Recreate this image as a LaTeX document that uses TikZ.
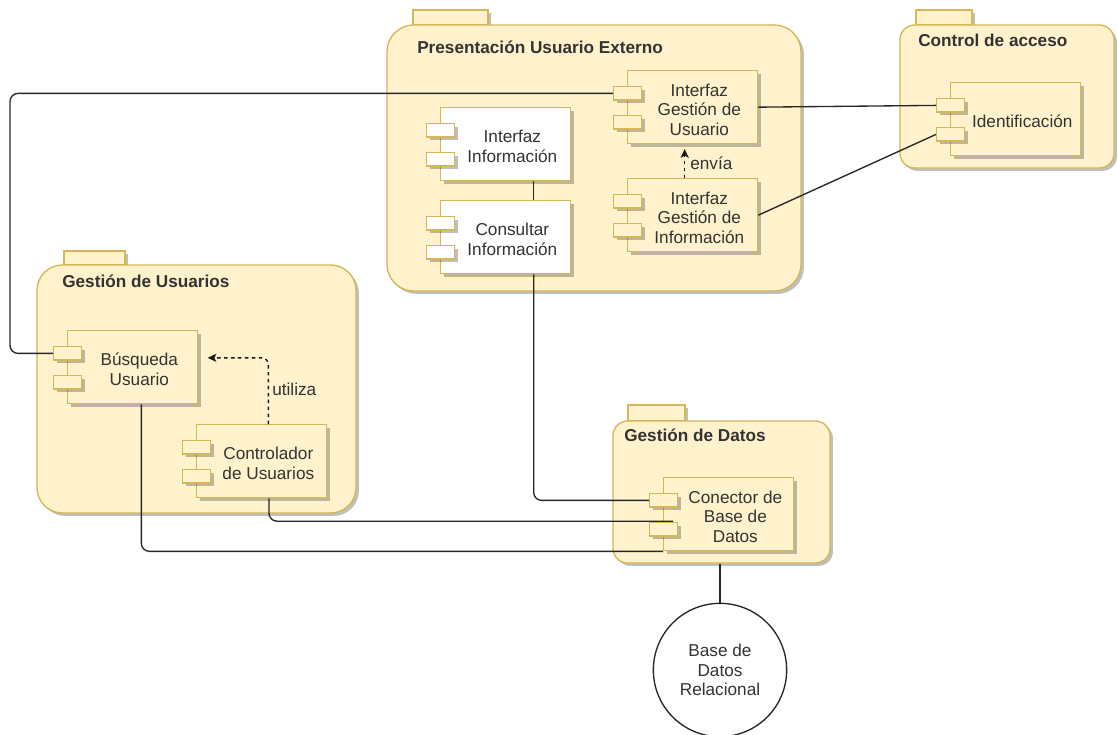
\documentclass[tikz,border=0pt]{standalone}
\usepackage{fontspec}
\setmainfont{Liberation Sans}
\usetikzlibrary{shadows,fit,arrows.meta}

\definecolor{pkgfill}{HTML}{FFF2CC}
\definecolor{pkgline}{HTML}{D6B656}
\definecolor{txt}{HTML}{333333}

\tikzset{
  softshadow/.style={drop shadow={shadow xshift=2.2pt, shadow yshift=-2.2pt, fill=black, opacity=0.25}},
  pkgbody/.style={draw=pkgline, fill=pkgfill, line width=1pt, inner sep=0pt, softshadow},
  pkgtitle/.style={anchor=west, inner sep=0pt, text=txt, font=\fontsize{12.9}{15}\selectfont\bfseries},
  comp/.style={draw=pkgline, line width=1pt, minimum width=97.5pt, minimum height=54.75pt,
    inner sep=0pt, align=center, text=txt, font=\fontsize{12.9}{14.6}\selectfont, softshadow},
  port/.style={draw=pkgline, line width=1pt, minimum width=21pt, minimum height=10.1pt,
    inner sep=0pt, softshadow},
  conn/.style={draw=black!85, line width=1pt, rounded corners=6pt},
  dep/.style={draw=black!90, line width=1pt, dash pattern=on 2.6pt off 2.6pt,
    -{Stealth[length=6.5pt,width=6pt,inset=1.5pt]}, rounded corners=5pt},
  lbl/.style={anchor=west, inner sep=0pt, text=txt, font=\fontsize{12.9}{15}\selectfont},
}

% component: name, left, top (px), fill, text (text sits a little right of centre, clear of the ports)
\newcommand\umlcomp[5]{%
  \node[comp, fill=#4, anchor=north west] (#1) at (#2,#3)
    {\hspace*{10pt}\raisebox{-3.5pt}[\height][\depth]{\begin{tabular}{@{}c@{}}#5\end{tabular}}};
  \node[port, fill=#4, anchor=north west] (#1-p1) at ([xshift=-10.5pt,yshift=-12pt]#1.north west) {};
  \node[port, fill=#4, anchor=north west] (#1-p2) at ([xshift=-10.5pt,yshift=-33.75pt]#1.north west) {};
}

\begin{document}
\begin{tikzpicture}[x=0.75pt, y=-0.75pt]
\useasboundingbox (0,0) rectangle (1118,735);

% ---------- packages ----------
\node[pkgbody, fit={(413,10) (488,25)}] (pres-tab) {};
\node[pkgbody, rounded corners=20pt, fit={(387,25) (801,291)}] (pres) {};
\node[pkgtitle] (pres-title) at (417,47) {Presentación Usuario Externo};

\node[pkgbody, fit={(916,10) (972,25)}] (acc-tab) {};
\node[pkgbody, rounded corners=11pt, fit={(900,25) (1114,168)}] (acc) {};
\node[pkgtitle] (acc-title) at (918,40) {Control de acceso};

\node[pkgbody, fit={(64,251) (125,265)}] (usr-tab) {};
\node[pkgbody, rounded corners=19pt, fit={(37,265) (356,513)}] (usr) {};
\node[pkgtitle] (usr-title) at (62,281) {Gestión de Usuarios};

\node[pkgbody, fit={(628,405) (685,421)}] (dat-tab) {};
\node[pkgbody, rounded corners=11pt, fit={(613,421) (830,563)}] (dat) {};
\node[pkgtitle] (dat-title) at (624,435) {Gestión de Datos};

% ---------- components ----------
\umlcomp{igu}{627}{70}{pkgfill}{Interfaz\\Gestión de\\Usuario}
\umlcomp{igi}{627}{178}{pkgfill}{Interfaz\\Gestión de\\Información}
\umlcomp{ii}{440}{107}{white}{Interfaz\\Información}
\umlcomp{ci}{440}{200}{white}{Consultar\\Información}
\umlcomp{idf}{950}{82}{pkgfill}{Identificación}
\umlcomp{bu}{67}{330}{pkgfill}{Búsqueda\\Usuario}
\umlcomp{cu}{196}{424}{pkgfill}{Controlador\\de Usuarios}
\umlcomp{cbd}{663}{477}{pkgfill}{Conector de\\Base de\\Datos}

% ---------- database ----------
\node[draw=black!85, line width=1pt, fill=white, circle, minimum size=100pt, inner sep=0pt,
  align=center, text=txt, font=\fontsize{12.9}{14.6}\selectfont] (bd) at (720,670)
  {Base de\\Datos\\Relacional};

% ---------- connectors ----------
\coordinate (lft) at (10,0);
\draw[conn] (igu-p1.west) -- (lft |- igu-p1.west) -- (lft |- bu-p1.west) -- (bu-p1.west);
\draw[conn] (igu.east) -- (idf-p1.west);
\draw[conn] (igi.east) -- (idf-p2.west);
\draw[conn] ([xshift=21pt]ii.south) -- ([xshift=21pt]ci.north);
\draw[conn] ([xshift=21pt]ci.south) |- (cbd-p1.west);
\draw[conn] ([xshift=5.5pt]cu.south) |- ([xshift=-4pt,yshift=0.6pt]cbd-p2.north east);
\draw[conn] ([xshift=6.5pt]bu.south) |- (cbd.south west);
\draw[conn] (bd.north) -- (bd.north |- dat.south);

% ---------- dependencies ----------
\draw[dep] ([xshift=-6pt]igi.north) -- ([xshift=-6pt,yshift=-3.5pt]igu.south);
\node[lbl] (envia) at (690,163) {envía};
\draw[dep] ([xshift=5pt]cu.north) |- ([xshift=7pt,yshift=7pt]bu.east);
\node[lbl] (utiliza) at (272,389) {utiliza};
\end{tikzpicture}
\end{document}
